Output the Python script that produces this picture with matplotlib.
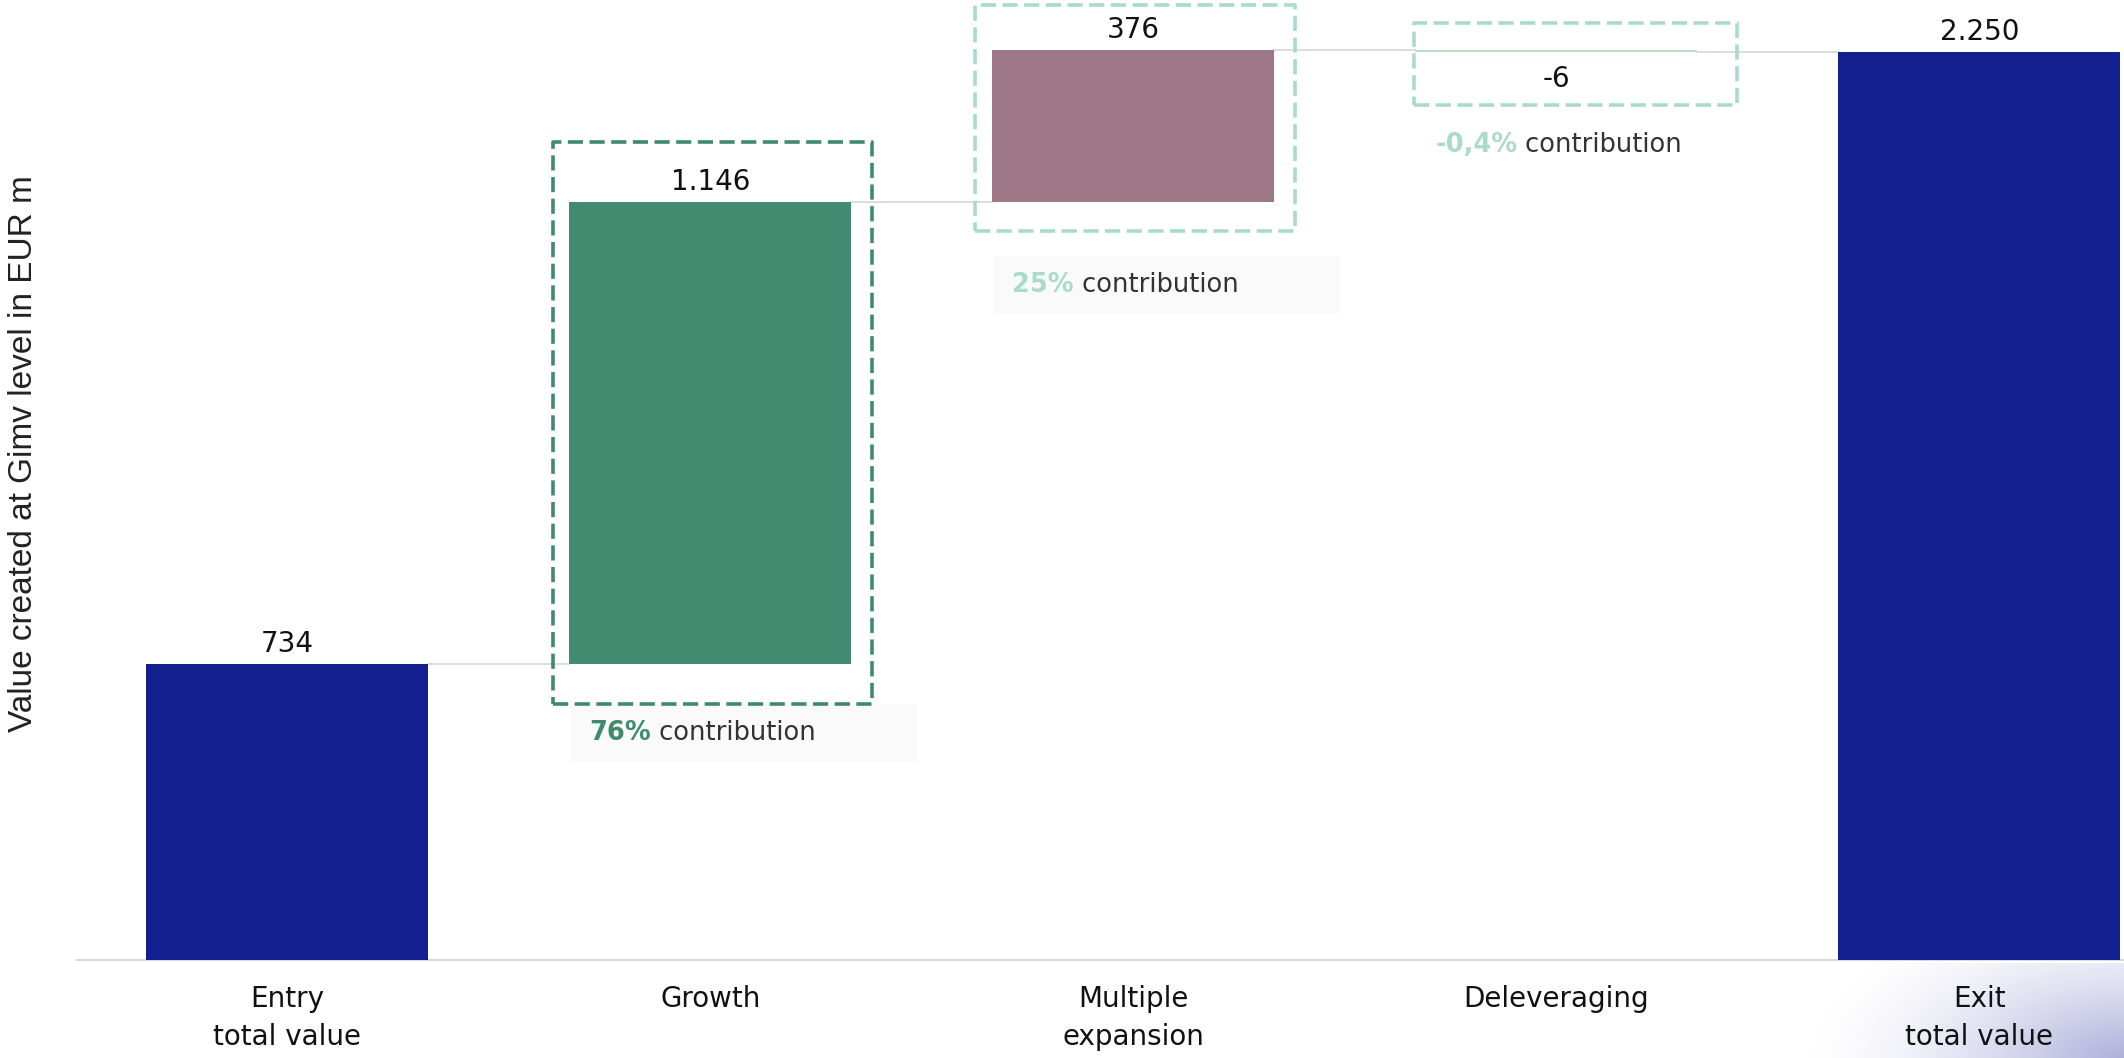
import matplotlib.pyplot as plt
import numpy as np
from matplotlib.patches import Rectangle

# waterfall data
categories = ["Entry\ntotal value", "Growth", "Multiple\nexpansion", "Deleveraging", "Exit\ntotal value"]
values = [734, 1146, 376, -6, 2250]
is_total = [True, False, False, False, True]
value_labels = ["734", "1.146", "376", "-6", "2.250"]
contrib_pct = [None, "76%", "25%", "-0,4%", None]

bar_colors = ["#131f8f", "#428b71", "#9e7887", "#b5dfc6", "#131f8f"]
hl_colors = [None, "#3f8a6e", "#a8dcc8", "#a8dcc8", None]

FONT = "DejaVu Sans"
W, H = 2124, 1058
fig = plt.figure(figsize=(W / 100, H / 100), dpi=100)

# corner gradient decoration
bg = fig.add_axes([0, 0, 1, 1], zorder=-1)
yy, xx = np.mgrid[0:H, 0:W]
d = np.sqrt(((xx - W) / 320.0) ** 2 + ((yy - H) / 160.0) ** 2)
alpha = np.clip(1 - d, 0, 1) ** 1.5 * 0.8
alpha[yy < 963] = 0
img = np.zeros((H, W, 4))
img[..., 0] = 0.60
img[..., 1] = 0.61
img[..., 2] = 0.82
img[..., 3] = alpha
bg.imshow(img, extent=(0, W, H, 0), aspect="auto")
bg.set_xlim(0, W)
bg.set_ylim(H, 0)
bg.axis("off")

ax = fig.add_axes([77 / W, 1 - 960 / H, 1 - 77 / W, 960 / H])
ax.set_facecolor("none")
ax.set_xlim(-0.497, 4.342)
ax.set_ylim(0, 2380)

px_x = 4.839 / (W - 77)   # data units per pixel
px_y = 2380 / 960.0

x = np.arange(len(values))
bw = 0.667
bottoms, heights = [], []
run = 0
for v, tot in zip(values, is_total):
    if tot:
        bottoms.append(0)
        heights.append(v)
        run = v
    else:
        bottoms.append(run)
        heights.append(v)
        run += v
bottoms = np.array(bottoms, float)
heights = np.array(heights, float)
tops = bottoms + heights

ax.bar(x, heights, bottom=bottoms, width=bw, color=bar_colors, zorder=3)

# connectors
for i in range(len(values) - 1):
    lvl = tops[i]
    ax.plot([x[i] + bw / 2, x[i + 1] - bw / 2], [lvl, lvl], color="#d9d9d9", lw=1.3, zorder=2)

# value labels
for i, lab in enumerate(value_labels):
    hi = max(bottoms[i], tops[i])
    lo = min(bottoms[i], tops[i])
    if values[i] < 0:
        ax.annotate(lab, (x[i], lo), xytext=(0, -13), textcoords="offset pixels",
                    ha="center", va="top", fontsize=20, family=FONT, color="#111111", zorder=5)
    else:
        ax.annotate(lab, (x[i], hi), xytext=(0, 6), textcoords="offset pixels",
                    ha="center", va="bottom", fontsize=20, family=FONT, color="#111111", zorder=5)

# dashed highlight boxes: margins in pixels (left, right, above top, below bottom)
box_margins = {1: (16, 21, 60, 40), 2: (17, 21, 45, 29), 3: (1, 40, 27, 53)}
for i, (ml, mr, mt, mb) in box_margins.items():
    hi = max(bottoms[i], tops[i])
    lo = min(bottoms[i], tops[i])
    x0 = x[i] - bw / 2 - ml * px_x
    x1 = x[i] + bw / 2 + mr * px_x
    y0 = lo - mb * px_y
    y1 = hi + mt * px_y
    ax.add_patch(Rectangle((x0, y0), x1 - x0, y1 - y0, fill=False, edgecolor=hl_colors[i],
                           lw=2.6, linestyle=(0, (4.2, 1.8)), joinstyle="round", zorder=4,
                           clip_on=False))

# contribution labels: gap in pixels from bar bottom to label centre, has grey panel
contrib_layout = {1: (69, True), 2: (83, True), 3: (93, False)}
for i, (gap, panel) in contrib_layout.items():
    lo = min(bottoms[i], tops[i])
    left = x[i] - bw / 2
    yc = lo - gap * px_y
    if panel:
        ax.add_patch(Rectangle((left + 2 * px_x, yc - 29 * px_y), 346 * px_x, 58 * px_y,
                               facecolor="#fafafa", edgecolor="none", zorder=1, clip_on=False))
    t = ax.annotate(contrib_pct[i], (left, yc), xytext=(20, 0), textcoords="offset pixels",
                    ha="left", va="center", fontsize=18.5, fontweight="bold", family=FONT,
                    color=hl_colors[i], zorder=5, annotation_clip=False)
    ax.annotate(" contribution", xy=(1, 0), xycoords=t, ha="left", va="bottom",
                fontsize=18.5, family=FONT, color="#333333", zorder=5)

ax.set_xticks(x)
ax.set_xticklabels(categories, fontsize=20, family=FONT, color="#111111", linespacing=1.45)
ax.tick_params(axis="x", length=0, pad=18)
ax.set_yticks([])
for s in ["top", "right", "left"]:
    ax.spines[s].set_visible(False)
ax.spines["bottom"].set_color("#d9d9d9")
ax.spines["bottom"].set_linewidth(1.5)

fig.text(24 / W, 1 - 454 / H, "Value created at Gimv level in EUR m", rotation=90,
         ha="center", va="center", fontsize=24, family="Liberation Sans", color="#222222")

fig.savefig("out.png", dpi=100)
